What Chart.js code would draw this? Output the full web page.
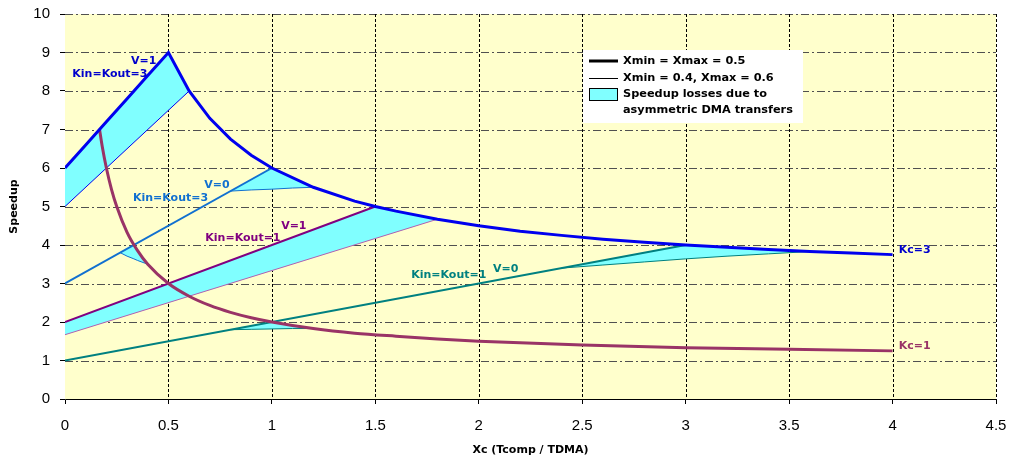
<!DOCTYPE html>
<html>
<head>
<meta charset="utf-8">
<script src="https://cdn.jsdelivr.net/npm/chart.js@4/dist/chart.umd.min.js"></script>
<style>
  body { margin: 0; background: #fff; }
  #wrap { width: 1009px; height: 459px; position: relative; }
</style>
</head>
<body>
<div id="wrap"><canvas id="speedupChart"></canvas></div>
<script>
// Kc=3 envelope, V=1 Kin=Kout=3 (Xmin = Xmax = 0.5)
const xBlue = [0, 0.1, 0.2, 0.3, 0.4, 0.5, 0.6, 0.7, 0.8, 0.9, 1.0, 1.2, 1.4, 1.5, 1.6, 1.8, 2.0, 2.2, 2.4, 2.6, 2.8, 3.0, 3.2, 3.4, 3.6, 3.8, 4.0];
const yBlue = [6, 6.6, 7.2, 7.8, 8.4, 9, 8, 7.29, 6.75, 6.33, 6, 5.5, 5.14, 5, 4.88, 4.67, 4.5, 4.36, 4.25, 4.15, 4.07, 4, 3.94, 3.88, 3.83, 3.79, 3.75];
const xBlueThin = [0, 0.6];
const yBlueThin = [5, 8];
const xBlueLoss = [0, 0.5, 0.6];
const yBlueLossHi = [6, 9, 8];
const yBlueLossLo = [5, 7.5, 8];

// V=0 Kin=Kout=3
const xLight = [0, 1];
const yLight = [3, 6];
const xLightLossA = [0.267, 0.3, 0.333, 0.35, 0.4];
const yLightLossAHi = [3.8, 3.9, 4.0, 3.86, 3.5];
const yLightLossALo = [3.8, 3.71, 3.64, 3.6, 3.5];
const xLightLossB = [0.8, 0.9, 1.0, 1.1, 1.2];
const yLightLossBHi = [5.4, 5.7, 6.0, 5.73, 5.5];
const yLightLossBLo = [5.4, 5.43, 5.45, 5.48, 5.5];

// V=1 Kin=Kout=1
const xPurple = [0, 1.5];
const yPurple = [2, 5];
const xPurpleThin = [0, 1.8];
const yPurpleThin = [1.67, 4.67];
const xPurpleLoss = [0, 0.5, 1.0, 1.5, 1.6, 1.7, 1.8];
const yPurpleLossHi = [2, 3, 4, 5, 4.88, 4.76, 4.67];
const yPurpleLossLo = [1.67, 2.5, 3.33, 4.17, 4.33, 4.5, 4.67];

// V=0 Kin=Kout=1
const xTeal = [0, 3];
const yTeal = [1, 4];
const xTealLossA = [0.8, 0.9, 1.0, 1.1, 1.2];
const yTealLossAHi = [1.8, 1.9, 2.0, 1.91, 1.83];
const yTealLossALo = [1.8, 1.81, 1.82, 1.83, 1.83];
const xTealLossB = [2.4, 2.6, 2.8, 3.0, 3.2, 3.4, 3.6];
const yTealLossBHi = [3.4, 3.6, 3.8, 4.0, 3.94, 3.88, 3.83];
const yTealLossBLo = [3.4, 3.48, 3.56, 3.64, 3.71, 3.77, 3.83];

// Kc=1 curve
const xMaroon = [0.167, 0.18, 0.2, 0.225, 0.25, 0.3, 0.35, 0.4, 0.5, 0.6, 0.7, 0.8, 0.9, 1.0, 1.2, 1.4, 1.6, 1.8, 2.0, 2.5, 3.0, 3.5, 4.0];
const yMaroon = [7.0, 6.56, 6.0, 5.44, 5.0, 4.33, 3.86, 3.5, 3.0, 2.67, 2.43, 2.25, 2.11, 2.0, 1.83, 1.71, 1.63, 1.56, 1.5, 1.4, 1.33, 1.29, 1.25];

const xTicks = [0, 0.5, 1, 1.5, 2, 2.5, 3, 3.5, 4, 4.5];
const yTicks = [0, 1, 2, 3, 4, 5, 6, 7, 8, 9, 10];

const legendText = ['Xmin = Xmax = 0.5', 'Xmin = 0.4, Xmax = 0.6', 'Speedup losses due to', 'asymmetric DMA transfers'];

const BLUE = '#0000ee', LIGHT = '#1170d0', PURPLE = '#800080', TEAL = '#008080', MAROON = '#993366', CYAN = '#80ffff';
const FONT = '"Liberation Sans", Arial, sans-serif';
const BOLD = '"DejaVu Sans", Verdana, sans-serif';

// curve labels, in data units
const notes = [
  { t: 'V=1', x: 0.38, y: 8.78, c: '#0000cc' },
  { t: 'Kin=Kout=3', x: 0.217, y: 8.45, c: '#0000cc' },
  { t: 'V=0', x: 0.734, y: 5.545, c: LIGHT },
  { t: 'Kin=Kout=3', x: 0.51, y: 5.23, c: LIGHT },
  { t: 'V=1', x: 1.106, y: 4.49, c: PURPLE },
  { t: 'Kin=Kout=1', x: 0.86, y: 4.18, c: PURPLE },
  { t: 'Kin=Kout=1', x: 1.855, y: 3.22, c: TEAL },
  { t: 'V=0', x: 2.13, y: 3.38, c: TEAL },
  { t: 'Kc=3', x: 4.03, y: 3.87, c: '#0000cc', left: true },
  { t: 'Kc=1', x: 4.03, y: 1.377, c: MAROON, left: true }
];

function pts(xs, ys) {
  return xs.map((x, i) => ({ x: x, y: ys[i] }));
}

function line(data, color, width, order) {
  return { data: data, borderColor: color, borderWidth: width, pointRadius: 0, fill: false, order: order };
}

function lossPair(xs, hi, lo) {
  return [
    { data: pts(xs, hi), borderWidth: 0, pointRadius: 0, fill: '+1', backgroundColor: CYAN, order: 20 },
    { data: pts(xs, lo), borderWidth: 0, pointRadius: 0, fill: false, order: 20 }
  ];
}

const datasets = [
  ...lossPair(xBlueLoss, yBlueLossHi, yBlueLossLo),
  ...lossPair(xLightLossA, yLightLossAHi, yLightLossALo),
  ...lossPair(xLightLossB, yLightLossBHi, yLightLossBLo),
  ...lossPair(xPurpleLoss, yPurpleLossHi, yPurpleLossLo),
  ...lossPair(xTealLossA, yTealLossAHi, yTealLossALo),
  ...lossPair(xTealLossB, yTealLossBHi, yTealLossBLo),
  line(pts(xBlueThin, yBlueThin), BLUE, 1, 5),
  line(pts(xLightLossA, yLightLossALo), LIGHT, 1, 5),
  line(pts(xLightLossB, yLightLossBLo), LIGHT, 1, 5),
  line(pts(xPurpleThin, yPurpleThin), '#b060b0', 1, 5),
  line(pts(xTealLossA, yTealLossALo), TEAL, 1, 5),
  line(pts(xTealLossB, yTealLossBLo), TEAL, 1, 5),
  line(pts(xTeal, yTeal), TEAL, 2, 3),
  line(pts(xPurple, yPurple), PURPLE, 2, 3),
  line(pts(xLight, yLight), LIGHT, 2, 3),
  Object.assign(line(pts(xMaroon, yMaroon), MAROON, 3, 2), { cubicInterpolationMode: 'monotone' }),
  line(pts(xBlue, yBlue), BLUE, 3, 1)
];

const backdrop = {
  id: 'backdrop',
  beforeDatasetsDraw(chart) {
    const { ctx, chartArea: a, scales } = chart;
    ctx.save();
    ctx.fillStyle = '#ffffcc';
    ctx.fillRect(a.left, a.top, a.right - a.left, a.bottom - a.top);
    ctx.lineWidth = 1;
    ctx.strokeStyle = '#505050';
    ctx.setLineDash([8, 3, 2, 3]);
    yTicks.slice(1).forEach(v => {
      const y = Math.round(scales.y.getPixelForValue(v)) + 0.5;
      ctx.beginPath(); ctx.moveTo(a.left, y); ctx.lineTo(a.right, y); ctx.stroke();
    });
    ctx.strokeStyle = '#000';
    ctx.setLineDash([3, 2]);
    xTicks.slice(1).forEach(v => {
      const x = Math.round(scales.x.getPixelForValue(v)) + 0.5;
      ctx.beginPath(); ctx.moveTo(x, a.top); ctx.lineTo(x, a.bottom); ctx.stroke();
    });
    ctx.restore();
  },
  afterDatasetsDraw(chart) {
    const { ctx, chartArea: a, scales } = chart;
    ctx.save();
    ctx.font = 'bold 11px ' + BOLD;
    ctx.textBaseline = 'middle';
    notes.forEach(n => {
      ctx.fillStyle = n.c;
      ctx.textAlign = n.left ? 'left' : 'center';
      ctx.fillText(n.t, scales.x.getPixelForValue(n.x), scales.y.getPixelForValue(n.y));
    });

    // legend box
    const lx = a.left + 518, ly = a.top + 36;
    ctx.fillStyle = '#fff';
    ctx.fillRect(lx, ly, 220, 73);
    ctx.strokeStyle = '#000';
    ctx.lineWidth = 3;
    ctx.beginPath(); ctx.moveTo(lx + 6, ly + 11); ctx.lineTo(lx + 35, ly + 11); ctx.stroke();
    ctx.lineWidth = 1;
    ctx.beginPath(); ctx.moveTo(lx + 6, ly + 28.5); ctx.lineTo(lx + 35, ly + 28.5); ctx.stroke();
    ctx.fillStyle = CYAN;
    ctx.fillRect(lx + 6, ly + 38, 28, 12);
    ctx.strokeRect(lx + 6.5, ly + 38.5, 28, 12);
    ctx.fillStyle = '#000';
    ctx.textAlign = 'left';
    ctx.font = 'bold 11.3px ' + BOLD;
    const rows = [11, 28, 44, 60];
    legendText.forEach((t, i) => ctx.fillText(t, lx + 40, ly + rows[i]));
    ctx.restore();
  }
};

new Chart(document.getElementById('speedupChart'), {
  type: 'line',
  data: { datasets: datasets },
  options: {
    responsive: true,
    maintainAspectRatio: false,
    animation: false,
    layout: { padding: { top: 14, right: 13, left: 0, bottom: 0 } },
    plugins: { legend: { display: false }, tooltip: { enabled: false } },
    scales: {
      x: {
        type: 'linear', min: 0, max: 4.5,
        afterBuildTicks: s => { s.ticks = xTicks.map(v => ({ value: v })); },
        afterFit: s => { s.height = 60; s.paddingLeft = 0; s.paddingRight = 0; },
        ticks: { color: '#000', font: { family: FONT, size: 15 }, padding: 13, maxRotation: 0, callback: v => String(v) },
        grid: { drawOnChartArea: false, tickLength: 5, tickColor: '#000' },
        border: { color: '#000', width: 1 },
        title: { display: true, text: 'Xc (Tcomp / TDMA)', color: '#000', font: { family: BOLD, size: 11, weight: 'bold' }, padding: { top: 0, bottom: 2 } }
      },
      y: {
        min: 0, max: 10,
        afterBuildTicks: s => { s.ticks = yTicks.map(v => ({ value: v })); },
        afterFit: s => { s.width = 65; s.paddingTop = 0; s.paddingBottom = 0; },
        ticks: { color: '#000', font: { family: FONT, size: 15 }, padding: 10, callback: v => String(v) },
        grid: { drawOnChartArea: false, tickLength: 5, tickColor: '#000' },
        border: { color: '#333', width: 1 },
        title: { display: true, text: 'Speedup', color: '#000', font: { family: BOLD, size: 11, weight: 'bold' }, padding: { top: 8, bottom: 0 } }
      }
    }
  },
  plugins: [backdrop]
});
</script>
</body>
</html>
